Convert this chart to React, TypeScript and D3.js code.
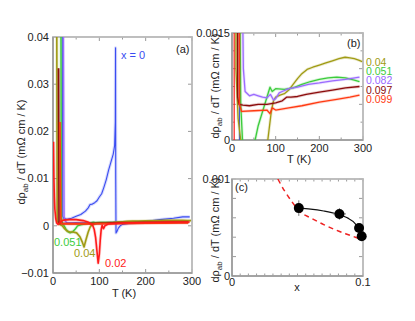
import React from "react";
import * as d3 from "d3";

type Pt = [number, number];

// dρab/dT (mΩ cm / K) against T (K), one curve per Sr content x
const curveX0: Pt[] = [
  [20, 0.05], [21, 0.002], [23, 0.0016], [30, 0.0014], [40, 0.0016], [50, 0.002],
  [60, 0.0024], [70, 0.0031], [76, 0.0038], [80, 0.0045], [85, 0.0046], [90, 0.0049],
  [95, 0.0053], [100, 0.0061], [105, 0.0068], [110, 0.0082], [115, 0.0098], [120, 0.0118],
  [125, 0.0135], [130, 0.0152], [133, 0.017], [134.5, 0.022], [135, 0.0377], [135.4, 0.01],
  [136, -0.0015], [138, -0.0012], [141, -0.0005], [145, 0.0], [150, 0.0003], [170, 0.0006],
  [200, 0.0009], [230, 0.0013], [260, 0.0016], [280, 0.0019], [295, 0.0019]
];
const curveX002: Pt[] = [
  [1, 0.0178], [2, 0.01], [3, 0.006], [4, 0.0035], [6, 0.0015], [8, 0.0006], [11, 0.0003],
  [15, 0.0007], [22, 0.0012], [35, 0.0013], [50, 0.0013], [65, 0.0011], [75, 0.0008],
  [82, 0.0004], [86, 0.0], [89, -0.0008], [92, -0.0025], [95, -0.0055], [97.5, -0.0079],
  [100, -0.006], [102, -0.003], [104, -0.0008], [106, 0.0001], [109, -0.0006], [112, 0.0],
  [120, 0.0004], [150, 0.0006], [200, 0.0007], [250, 0.0008], [295, 0.0008]
];
const curveX004: Pt[] = [
  [8, 0.05], [9, 0.001], [14, 0.0003], [20, 0.0], [25, -0.0006], [30, -0.0011], [36, -0.0013],
  [43, -0.0013], [51, -0.0015], [58, -0.0023], [63, -0.0034], [67, -0.0045], [71, -0.003],
  [76, -0.0013], [80, -0.0003], [82, 0.0], [86, 0.0002], [90, 0.0004], [95, 0.00055],
  [100, 0.0006], [110, 0.00063], [120, 0.00065], [130, 0.0007], [140, 0.00078], [150, 0.00086],
  [160, 0.00093], [172, 0.00099], [185, 0.00102], [200, 0.00105], [215, 0.00108], [230, 0.00111],
  [245, 0.00114], [259, 0.00116], [270, 0.00115], [280, 0.00114], [290, 0.00112], [298, 0.0011]
];
const curveX0051: Pt[] = [
  [17, 0.05], [18, 0.002], [20, 0.0005], [24, 0.0], [28, -0.0007], [33, -0.0013], [37, -0.0015],
  [42, -0.0013], [47, -0.0008], [51, -0.0003], [53, 0.0], [60, 0.0002], [70, 0.0004],
  [80, 0.0006], [87, 0.00074], [92, 0.00068], [100, 0.00072], [120, 0.00071], [140, 0.00073],
  [160, 0.00078], [180, 0.00082], [200, 0.00085], [220, 0.00087], [240, 0.00088], [260, 0.00087],
  [280, 0.00084], [292, 0.00082]
];
const curveX0082: Pt[] = [
  [22, 0.05], [24, 0.002], [26, 0.001], [30, 0.00068], [40, 0.00062], [50, 0.00064],
  [60, 0.00062], [70, 0.0006], [80, 0.00059], [88, 0.00064], [95, 0.00056], [100, 0.00058],
  [108, 0.00066], [115, 0.00068], [130, 0.00072], [150, 0.00074], [175, 0.00078], [200, 0.0008],
  [230, 0.00083], [260, 0.00085], [292, 0.00088]
];
const curveX0097: Pt[] = [
  [12, 0.0334], [13, 0.0006], [16, 0.0005], [25, 0.00049], [40, 0.00048], [60, 0.0005],
  [80, 0.0005], [100, 0.00052], [115, 0.00055], [125, 0.0006], [135, 0.0006], [150, 0.00061],
  [170, 0.00064], [200, 0.00067], [230, 0.0007], [260, 0.00073], [292, 0.00075]
];
const curveX0099: Pt[] = [
  [15, 0.022], [17, 0.0005], [22, 0.0004], [50, 0.00041], [80, 0.00042], [87, 0.00037],
  [92, 0.00045], [100, 0.00042], [130, 0.00045], [160, 0.00048], [200, 0.00053],
  [240, 0.00057], [270, 0.0006], [292, 0.00063]
];

// panel (c): slope at high T against x
const dopings = [0.051, 0.082, 0.097, 0.099];
const slopes = [0.0007, 0.00064, 0.000495, 0.00041];
const slopeErr = [0.00008, 0.00006, 0.00004, 0.00003];
const dopingErr = [0.002, 0.005, 0.001, 0.001];
const fitX = [0.051, 0.06, 0.07, 0.08, 0.088, 0.094, 0.099];
const fitY = [0.0007, 0.00069, 0.00067, 0.00064, 0.0006, 0.00054, 0.00042];
const guideX = [0.035, 0.04, 0.045, 0.052, 0.06, 0.07, 0.08, 0.09, 0.1];
const guideY = [0.001, 0.00088, 0.00078, 0.00066, 0.0006, 0.00053, 0.00047, 0.00042, 0.00037];

const colors = {
  x0: "#3a4cf2",
  x002: "#ff1a1a",
  x004: "#a09b14",
  x0051: "#3ccc3c",
  x0082: "#9b6bff",
  x0097: "#8c0c0c",
  x0099: "#ff3a12"
};

const seriesA = [
  { data: curveX0, color: colors.x0, w: 1.1 },
  { data: curveX0082, color: colors.x0082, w: 1.4 },
  { data: curveX0051, color: colors.x0051, w: 1.4 },
  { data: curveX004, color: colors.x004, w: 1.6 },
  { data: curveX0097, color: colors.x0097, w: 1.6 },
  { data: curveX0099, color: colors.x0099, w: 1.6 },
  { data: curveX002, color: colors.x002, w: 1.6 }
];
const seriesB = [
  { data: curveX004, color: colors.x004, label: "0.04" },
  { data: curveX0051, color: colors.x0051, label: "0.051" },
  { data: curveX0082, color: colors.x0082, label: "0.082" },
  { data: curveX0097, color: colors.x0097, label: "0.097" },
  { data: curveX0099, color: colors.x0099, label: "0.099" }
];

const font = "'Liberation Sans', Arial, sans-serif";
const frame = "#9a9a9a";

function YLabel({ x, y }: { x: number; y: number }) {
  return (
    <text
      transform={`translate(${x},${y}) rotate(-90)`}
      textAnchor="middle"
      fontSize={11}
      fontFamily={font}
      fill="#222"
    >
      dρ<tspan fontSize={8} dy={3}>ab</tspan>
      <tspan dy={-3}> / dT (mΩ cm / K)</tspan>
    </text>
  );
}

function Frame({ x0, x1, y0, y1, xt, yt, major }: any) {
  // box with inward ticks on all four sides
  return (
    <g>
      {xt.map((v: number, i: number) => {
        const len = major(v, "x") ? 4 : 2.5;
        return (
          <g key={"x" + i}>
            <line x1={v} x2={v} y1={y1} y2={y1 - len} stroke={frame} />
            <line x1={v} x2={v} y1={y0} y2={y0 + len} stroke={frame} />
          </g>
        );
      })}
      {yt.map((v: number, i: number) => {
        const len = major(v, "y") ? 4 : 2.5;
        return (
          <g key={"y" + i}>
            <line x1={x0} x2={x0 + len} y1={v} y2={v} stroke={frame} />
            <line x1={x1} x2={x1 - len} y1={v} y2={v} stroke={frame} />
          </g>
        );
      })}
      <rect x={x0} y={y0} width={x1 - x0} height={y1 - y0} fill="none" stroke="#b8b8b8" strokeWidth={1.8} />
      <line x1={x0} x2={x0} y1={y0} y2={y1} stroke="#888" strokeWidth={1} />
      <line x1={x0} x2={x1} y1={y1} y2={y1} stroke="#888" strokeWidth={1} />
    </g>
  );
}

export default function App() {
  // panel (a)
  const xA = d3.scaleLinear().domain([0, 300]).range([53, 192]);
  const yA = d3.scaleLinear().domain([-0.01, 0.04]).range([273, 37]);
  const lineA = d3.line<Pt>().x(d => xA(d[0])).y(d => yA(d[1]));

  // panel (b)
  const xB = d3.scaleLinear().domain([0, 300]).range([232, 363]);
  const yB = d3.scaleLinear().domain([0, 0.0015]).range([140, 33]);
  const lineB = d3.line<Pt>().x(d => xB(d[0])).y(d => yB(d[1]));

  // panel (c)
  const xC = d3.scaleLinear().domain([0, 0.1]).range([232, 363]);
  const yC = d3.scaleLinear().domain([0, 0.001]).range([276, 179]);
  const fitLine = d3
    .line<number>()
    .x((d, i) => xC(fitX[i]))
    .y(d => yC(d))
    .curve(d3.curveMonotoneX);
  const guideLine = d3
    .line<number>()
    .x((d, i) => xC(guideX[i]))
    .y(d => yC(d))
    .curve(d3.curveMonotoneX);

  const tickText = { fontSize: 11, fontFamily: font, fill: "#222" };

  return (
    <svg width={415} height={321} style={{ position: "absolute", left: 0, top: 0, background: "#fff" }}>
      <defs>
        <clipPath id="clipA"><rect x={53} y={37} width={139} height={236} /></clipPath>
        <clipPath id="clipB"><rect x={232} y={33} width={131} height={107} /></clipPath>
        <clipPath id="clipC"><rect x={232} y={179} width={131} height={97} /></clipPath>
      </defs>

      {/* (a) */}
      <Frame
        x0={53} x1={192} y0={37} y1={273}
        xt={d3.range(0, 301, 50).map(v => xA(v))}
        yt={d3.range(-0.01, 0.0401, 0.01).map(v => yA(v))}
        major={(v: number, ax: string) => ax === "y" || Math.round(xA.invert(v)) % 100 === 0}
      />
      <g clipPath="url(#clipA)" fill="none" strokeLinejoin="round">
        {seriesA.map((s, i) => (
          <g key={i}>
            <path d={lineA(s.data) || ""} stroke={s.color} strokeOpacity={0.2} strokeWidth={3.2} />
            <path d={lineA(s.data) || ""} stroke={s.color} strokeWidth={s.w} />
          </g>
        ))}
      </g>
      {d3.range(-0.01, 0.0401, 0.01).map((v, i) => (
        <text key={i} x={49} y={yA(v)} dy="0.35em" textAnchor="end" {...tickText}>
          {Math.abs(v) < 1e-9 ? "0" : d3.format(".2f")(v)}
        </text>
      ))}
      {[0, 100, 200, 300].map(v => (
        <text key={v} x={xA(v)} y={285} textAnchor="middle" {...tickText}>{v}</text>
      ))}
      <text x={124} y={297} textAnchor="middle" {...tickText}>T (K)</text>
      <YLabel x={25} y={152} />
      <text x={176} y={53} {...tickText}>(a)</text>
      <text x={121} y={59} fontSize={11} fontFamily={font} fill={colors.x0}>x = 0</text>
      <text x={54} y={246} fontSize={11} fontFamily={font} fill={colors.x0051}>0.051</text>
      <text x={74} y={257} fontSize={11} fontFamily={font} fill={colors.x004}>0.04</text>
      <text x={105} y={267} fontSize={11} fontFamily={font} fill={colors.x002}>0.02</text>

      {/* (b) */}
      <Frame
        x0={232} x1={363} y0={33} y1={140}
        xt={d3.range(0, 301, 50).map(v => xB(v))}
        yt={d3.range(0, 0.00151, 0.00025).map(v => yB(v))}
        major={(v: number, ax: string) =>
          ax === "y" ? Math.round(yB.invert(v) * 1e5) % 50 === 0 : Math.round(xB.invert(v)) % 100 === 0}
      />
      <g clipPath="url(#clipB)" fill="none" strokeLinejoin="round">
        <line x1={xB(5)} x2={xB(5)} y1={33} y2={140} stroke={colors.x002} strokeWidth={1.2} />
        <line x1={xB(17)} x2={xB(17)} y1={33} y2={140} stroke={colors.x0} strokeWidth={1.2} />
        {seriesB.map((s, i) => (
          <g key={i}>
            <path d={lineB(s.data) || ""} stroke={s.color} strokeOpacity={0.2} strokeWidth={3} />
            <path d={lineB(s.data) || ""} stroke={s.color} strokeWidth={1.3} />
          </g>
        ))}
      </g>
      {seriesB.map((s, i) => (
        <text key={i} x={366} y={66 + i * 9.2} fontSize={10.5} fontFamily={font} fill={s.color}>{s.label}</text>
      ))}
      <text x={230} y={yB(0.0015)} dy="0.35em" textAnchor="end" {...tickText}>0.0015</text>
      <text x={230} y={yB(0)} dy="0.35em" textAnchor="end" {...tickText}>0</text>
      {[0, 100, 200, 300].map(v => (
        <text key={v} x={xB(v)} y={152} textAnchor="middle" {...tickText}>{v}</text>
      ))}
      <text x={299} y={163} textAnchor="middle" {...tickText}>T (K)</text>
      <YLabel x={219} y={86} />
      <text x={347} y={47} {...tickText}>(b)</text>

      {/* (c) */}
      <Frame
        x0={232} x1={363} y0={179} y1={276}
        xt={d3.range(0, 17).map(i => xC(i * 0.1 / 16))}
        yt={d3.range(0, 0.00101, 0.0002).map(v => yC(v))}
        major={(v: number, ax: string) => ax === "y"}
      />
      <g clipPath="url(#clipC)" fill="none">
        <path d={guideLine(guideY) || ""} stroke="#ee2222" strokeWidth={1.5} strokeDasharray="5,4" />
        <path d={fitLine(fitY) || ""} stroke="#111" strokeWidth={1.2} />
      </g>
      {dopings.map((x, i) => (
        <g key={i} stroke="#777" strokeWidth={1}>
          <line x1={xC(x)} x2={xC(x)} y1={yC(slopes[i] - slopeErr[i])} y2={yC(slopes[i] + slopeErr[i])} />
          <line x1={xC(x - dopingErr[i])} x2={xC(x + dopingErr[i])} y1={yC(slopes[i])} y2={yC(slopes[i])} />
          <circle cx={xC(x)} cy={yC(slopes[i])} r={5} fill="#000" stroke="none" />
        </g>
      ))}
      <text x={230} y={yC(0.001)} dy="0.35em" textAnchor="end" {...tickText}>0.001</text>
      <text x={230} y={yC(0)} dy="0.35em" textAnchor="end" {...tickText}>0</text>
      <text x={xC(0)} y={286} textAnchor="middle" {...tickText}>0</text>
      <text x={xC(0.1)} y={286} textAnchor="middle" {...tickText}>0.1</text>
      <text x={297} y={291} textAnchor="middle" {...tickText}>x</text>
      <YLabel x={219} y={230} />
      <text x={235} y={191} {...tickText}>(c)</text>
    </svg>
  );
}
